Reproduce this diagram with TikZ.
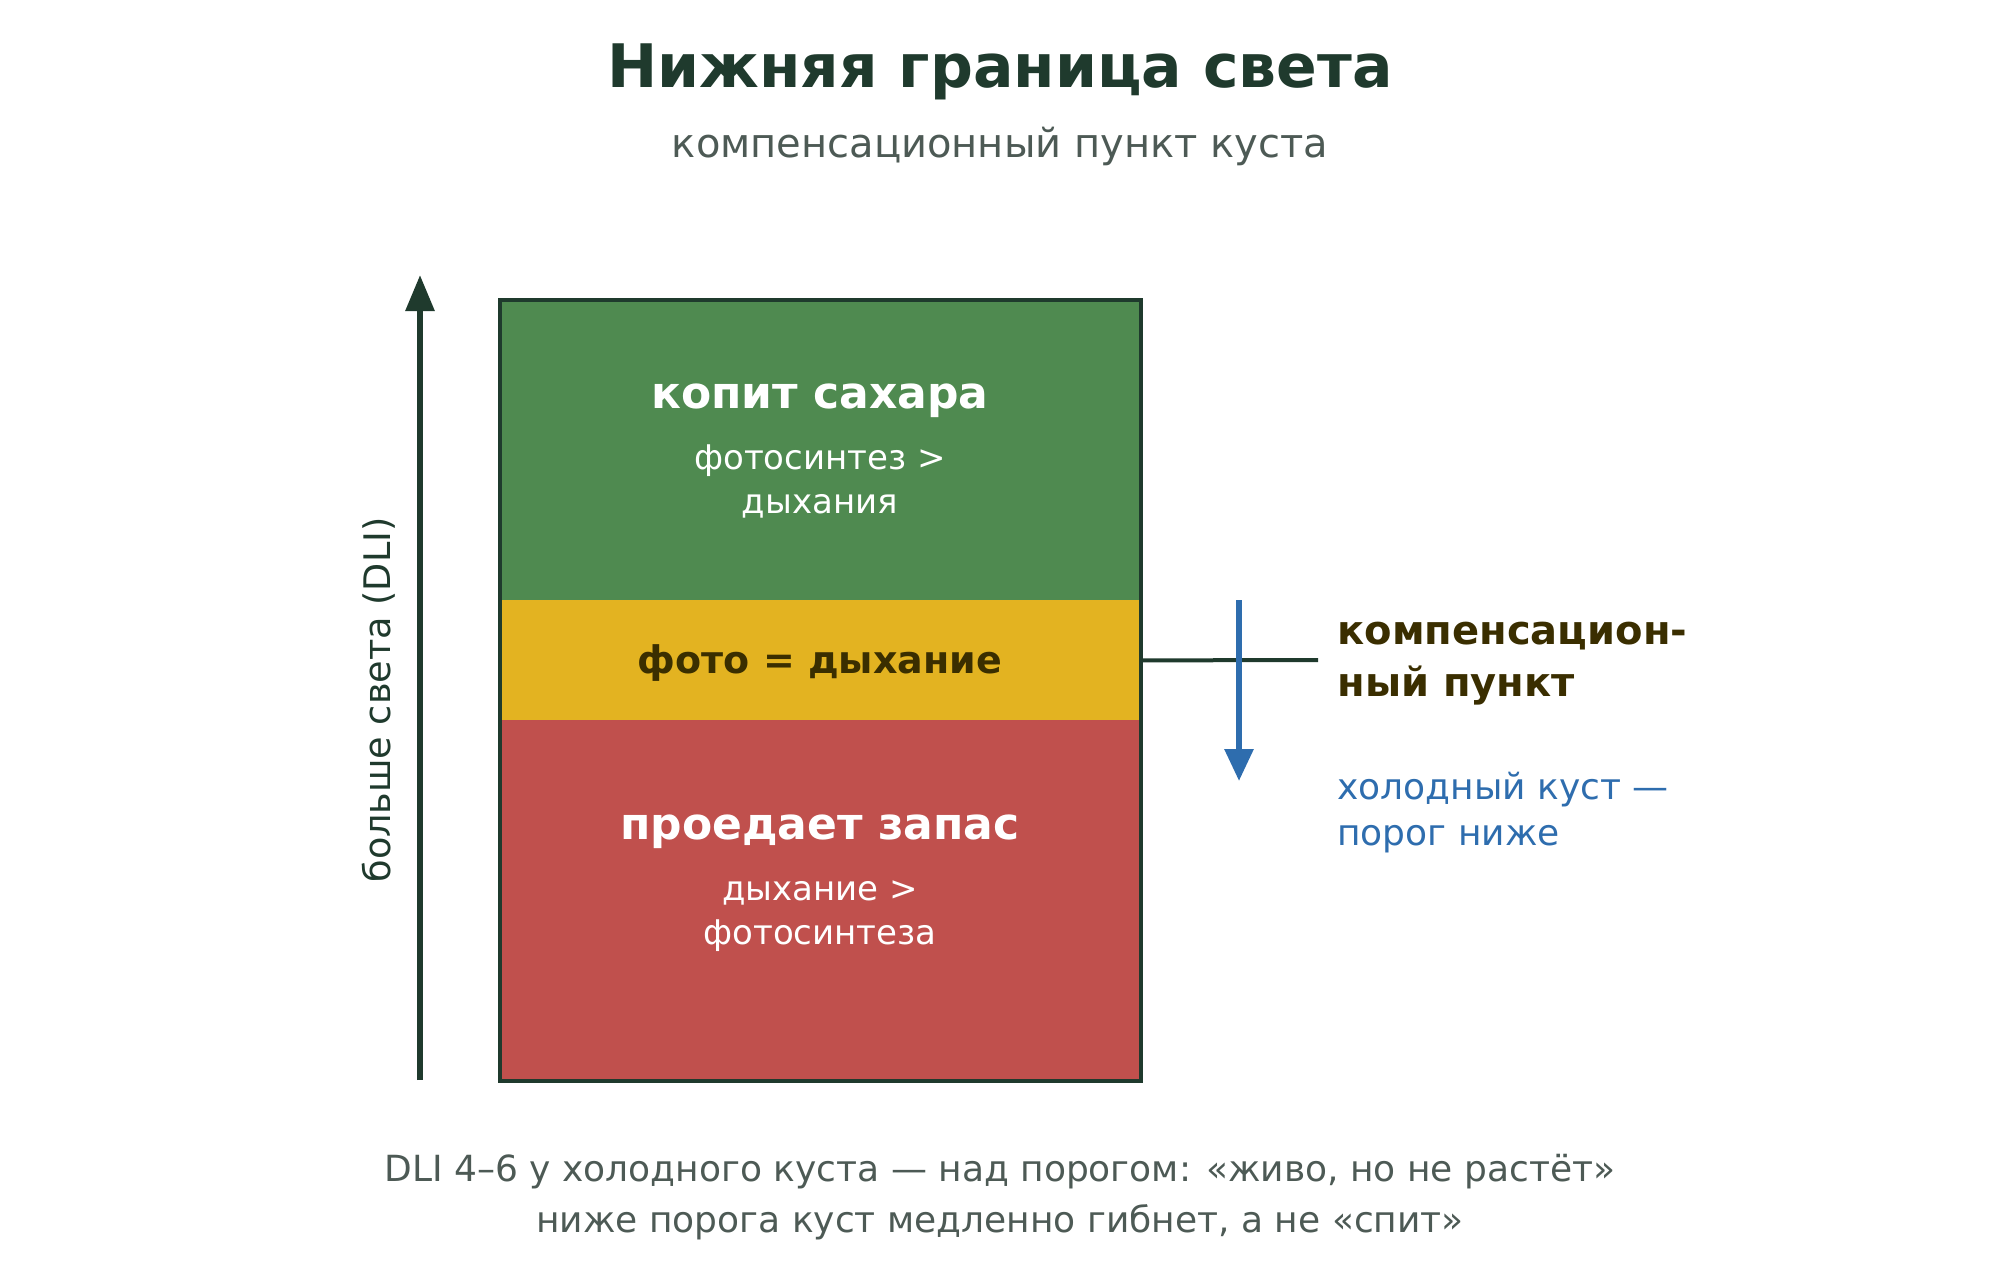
\documentclass[tikz,border=0pt]{standalone}
\usepackage{fontspec}
\setmainfont{DejaVu Sans}
\usetikzlibrary{arrows.meta,positioning}
\definecolor{ink}{HTML}{1F3A2D}
\definecolor{greyink}{HTML}{4D5A55}
\definecolor{leafgreen}{HTML}{4F8A50}
\definecolor{sunyellow}{HTML}{E3B321}
\definecolor{brickred}{HTML}{C0504D}
\definecolor{darkbrown}{HTML}{3A2E00}
\definecolor{coldblue}{HTML}{2E6DAE}
\tikzstyle{band} = [draw=none, minimum width=320pt, inner sep=0pt, anchor=north west]
\tikzstyle{head} = [text=white, font=\bfseries\fontsize{22}{27}\selectfont]
\tikzstyle{sub} = [text=white, align=center, font=\fontsize{17}{22}\selectfont]
\tikzstyle{axis} = [draw=ink, line width=3pt, -{Triangle[length=18pt,width=14pt]}]
\tikzstyle{note} = [anchor=west, align=left, inner sep=0pt]
\begin{document}
\begin{tikzpicture}[x=0.5pt, y=-0.5pt]
    \useasboundingbox (0,0) rectangle (2000,1280);
    % title
    \node (title) [text=ink, font=\bfseries\fontsize{30}{36}\selectfont] at (1000,72) {Нижняя граница света};
    \node (subtitle) [text=greyink, font=\fontsize{20}{24}\selectfont] at (1000,146) {компенсационный пункт куста};
    % bands
    \node (green) [band, fill=leafgreen, minimum height=150pt] at (500,300) {};
    \node (yellow) [band, fill=sunyellow, minimum height=60pt] at (500,600) {};
    \node (red) [band, fill=brickred, minimum height=180pt] at (500,720) {};
    \draw [ink, line width=2pt] (green.north west) rectangle (red.south east);
    \node (gainhead) [head] at (820,401) {копит сахара};
    \node (gainsub) [sub] at (820,481) {фотосинтез >\\дыхания};
    \node (balance) [text=darkbrown, font=\bfseries\fontsize{19}{23}\selectfont] at (820,663) {фото = дыхание};
    \node (losshead) [head] at (820,832) {проедает запас};
    \node (losssub) [sub] at (820,916) {дыхание >\\фотосинтеза};
    % axis
    \coordinate (axisfoot) at (420,1080);
    \coordinate (axistip) at (420,275);
    \path [axis] (axisfoot) -- (axistip);
    \node (axislabel) [text=ink, rotate=90, font=\fontsize{18.3}{22}\selectfont] at (379,700) {больше света (DLI)};
    % compensation point
    \coordinate (tickend) at (1318,660);
    \draw [ink, line width=2pt] (yellow.east) -- (tickend);
    \coordinate (shifttop) at (1239,600);
    \coordinate (shiftend) at (1239,781);
    \path [draw=coldblue, line width=3pt, -{Triangle[length=16pt,width=14pt]}] (shifttop) -- (shiftend);
    \node (cpoint) [note, text=darkbrown, font=\bfseries\fontsize{20}{26}\selectfont] at (1337,664) {компенсацион-\\ный пункт};
    \node (coldnote) [note, text=coldblue, font=\fontsize{18}{23}\selectfont] at (1337,813) {холодный куст —\\порог ниже};
    % footer
    \node (foot) [text=greyink, align=center, font=\fontsize{18}{25.5}\selectfont] at (1000,1197) {DLI 4–6 у холодного куста — над порогом: «живо, но не растёт»\\ниже порога куст медленно гибнет, а не «спит»};
\end{tikzpicture}
\end{document}
